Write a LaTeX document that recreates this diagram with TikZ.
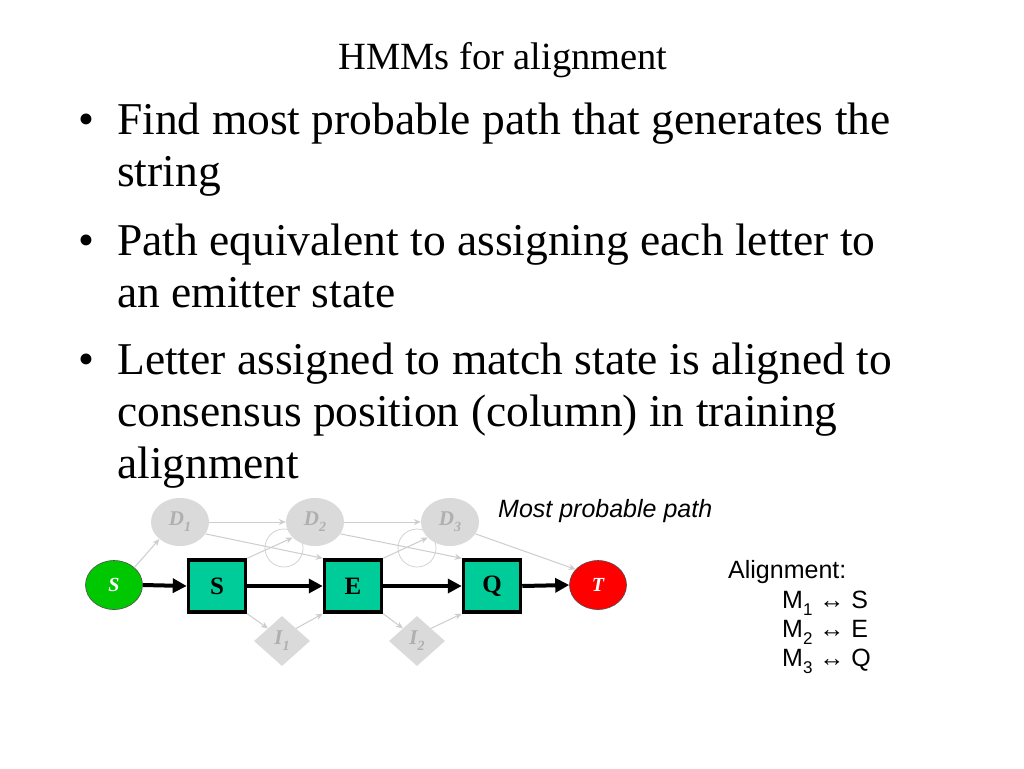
\documentclass[tikz,border=0pt]{standalone}
\usepackage{fontspec}
\setmainfont{Liberation Serif}
\setsansfont{Liberation Sans}
\usetikzlibrary{shapes.geometric,arrows.meta}
\definecolor{teal1}{RGB}{0,204,153}
\definecolor{green1}{RGB}{0,200,0}
\definecolor{red1}{RGB}{255,0,0}
\definecolor{ghostfill}{RGB}{218,218,218}
\definecolor{ghosttext}{RGB}{175,175,175}
\definecolor{ghostline}{RGB}{205,205,205}
\newcommand{\mysub}[2]{\raisebox{-0.28em}{\fontsize{#1}{#1}\selectfont #2}}
\begin{document}
\begin{tikzpicture}[x=1pt,y=-1pt,
  bodytext/.style={anchor=base west,inner sep=0pt,font=\fontsize{45.5}{54}\selectfont},
  sanstext/.style={anchor=base west,inner sep=0pt,font=\sffamily\fontsize{25}{30}\selectfont},
  matchbox/.style={draw=black,line width=3.5pt,fill=teal1,minimum width=57pt,minimum height=52pt,inner sep=0pt,font=\bfseries\fontsize{25}{25}\selectfont},
  endstate/.style={ellipse,draw=black!70,line width=0.6pt,minimum width=57pt,minimum height=49pt,inner sep=0pt,text=white,font=\bfseries\itshape\fontsize{20}{20}\selectfont},
  delstate/.style={ellipse,fill=ghostfill,minimum width=58pt,minimum height=48pt,inner sep=0pt,text=ghosttext,font=\bfseries\itshape\fontsize{21}{21}\selectfont},
  insstate/.style={diamond,fill=ghostfill,minimum width=56pt,minimum height=50pt,aspect=1.12,inner sep=0pt,text=ghosttext,font=\bfseries\itshape\fontsize{21}{21}\selectfont},
  ghostloop/.style={draw=ghostline,line width=0.7pt},
  grayarr/.style={draw=ghostline,line width=1pt,-{Stealth[length=7pt,width=6pt]}},
  blackarr/.style={draw=black,line width=4pt,-{Triangle[length=14pt,width=14pt]}}
]
\useasboundingbox[fill=white] (0,0) rectangle (1024,768);

% title
\node[anchor=base,inner sep=0pt,font=\fontsize{38.5}{42}\selectfont] (title) at (503,69) {HMMs for alignment};

% bullets
\node[bodytext] (b1) at (78,134) {•};
\node[bodytext] (l1) at (117,134) {Find most probable path that generates the};
\node[bodytext] (l2) at (117,186) {string};
\node[bodytext] (b2) at (78,255) {•};
\node[bodytext] (l3) at (117,255) {Path equivalent to assigning each letter to};
\node[bodytext] (l4) at (117,307) {an emitter state};
\node[bodytext] (b3) at (78,374) {•};
\node[bodytext] (l5) at (117,374) {Letter assigned to match state is aligned to};
\node[bodytext] (l6) at (117,426) {consensus position (column) in training};
\node[bodytext] (l7) at (117,478) {alignment};

% faint loops
\draw[ghostloop] (284,548) circle (19);
\draw[ghostloop] (417,548) circle (19);

% states
\node[endstate,fill=green1] (st) at (114,585) {S};
\node[matchbox] (m1) at (217,586) {S};
\node[matchbox] (m2) at (353,586) {E};
\node[matchbox] (m3) at (492,586) {Q};
\node[endstate,fill=red1] (tt) at (598,585) {T};
\node[delstate] (d1) at (180,522) {D\mysub{14}{1}};
\node[delstate] (d2) at (315,522) {D\mysub{14}{2}};
\node[delstate] (d3) at (450,522) {D\mysub{14}{3}};
\node[insstate] (i1) at (282,641) {I\mysub{14}{1}};
\node[insstate] (i2) at (417,641) {I\mysub{14}{2}};

% gray transitions
\draw[grayarr] (st.north east) -- (d1.south west);
\draw[grayarr] (d1.east) -- (d2.west);
\draw[grayarr] (d2.east) -- (d3.west);
\draw[grayarr] (d1.335) -- (m2.north west);
\draw[grayarr] (d2.335) -- (m3.north west);
\draw[grayarr] (d3.335) -- (tt.145);
\draw[grayarr] (m1.north east) -- (d2.215);
\draw[grayarr] (m2.north east) -- (d3.215);
\draw[grayarr] (m1.south east) -- (i1.north west);
\draw[grayarr] (i1.north east) -- (m2.south west);
\draw[grayarr] (m2.south east) -- (i2.north west);
\draw[grayarr] (i2.north east) -- (m3.south west);

% most probable path
\draw[blackarr] (st.east) -- (m1.west);
\draw[blackarr] (m1.east) -- (m2.west);
\draw[blackarr] (m2.east) -- (m3.west);
\draw[blackarr] (m3.east) -- (tt.west);

% labels
\node[anchor=base west,inner sep=0pt,font=\sffamily\itshape\fontsize{25}{30}\selectfont] (mpp) at (498,517) {Most probable path};
\node[sanstext] (al) at (728,578) {Alignment:};
\node[sanstext] (a1) at (782,608) {M\mysub{17}{1} ↔ S};
\node[sanstext] (a2) at (782,637) {M\mysub{17}{2} ↔ E};
\node[sanstext] (a3) at (782,666) {M\mysub{17}{3} ↔ Q};
\end{tikzpicture}
\end{document}
